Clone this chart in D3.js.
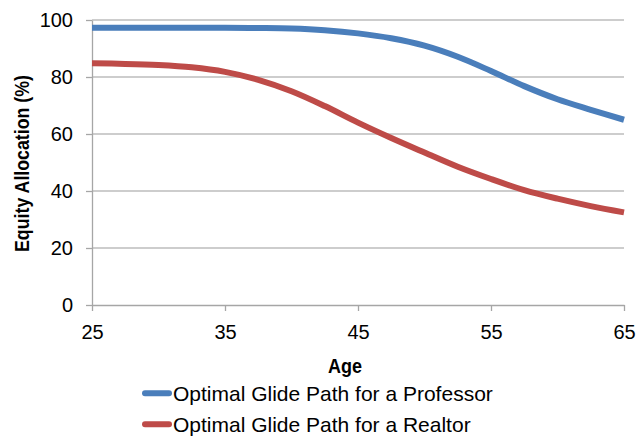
<!DOCTYPE html>
<html>
<head>
<meta charset="utf-8">
<script src="https://cdn.jsdelivr.net/npm/d3@7"></script>
<style>
  html, body { margin: 0; padding: 0; background: #fff; }
  svg { display: block; }
  text { font-family: "Liberation Sans", Arial, sans-serif; fill: #000; }
  .title { font-weight: bold; }
</style>
</head>
<body>
<svg id="chart" width="639" height="438"></svg>
<script>
// Glide path data: equity allocation (%) by age
const ages      = [25, 27.5, 30, 32.5, 35, 37.5, 40, 42.5, 45, 47.5, 50, 52.5, 55, 57.5, 60, 62.5, 65];
const professor = [97.3, 97.3, 97.3, 97.3, 97.3, 97.2, 97.0, 96.4, 95.3, 93.6, 91.0, 87.1, 82.1, 76.8, 72.2, 68.5, 65.0];
const realtor   = [84.8, 84.6, 84.2, 83.4, 81.8, 79.0, 75.0, 69.8, 64.0, 58.6, 53.5, 48.5, 44.2, 40.3, 37.3, 34.7, 32.5];
const seriesNames = ["Optimal Glide Path for a Professor", "Optimal Glide Path for a Realtor"];
const seriesColors = ["#4a7ebb", "#be4b48"];
const xTicks = [25, 35, 45, 55, 65];
const yTicks = [0, 20, 40, 60, 80, 100];

const svg = d3.select("#chart");
const margin = { left: 92, right: 15, top: 20, bottom: 133 };
const W = 639, H = 438;

const x = d3.scaleLinear().domain([25, 65]).range([margin.left, W - margin.right]);
const y = d3.scaleLinear().domain([0, 100]).range([H - margin.bottom, margin.top]);

// horizontal gridlines
svg.append("g")
  .selectAll("line")
  .data(yTicks.filter(d => d > 0))
  .join("line")
  .attr("x1", x(25)).attr("x2", x(65))
  .attr("y1", d => y(d)).attr("y2", d => y(d))
  .attr("stroke", "#bcbcbc").attr("stroke-width", 1.3);

// y axis
const yAxis = svg.append("g")
  .attr("transform", `translate(${x(25)},0)`)
  .call(d3.axisLeft(y).tickValues(yTicks).tickSize(6).tickPadding(13).tickSizeOuter(0));
yAxis.select(".domain").attr("stroke", "#a6a6a6").attr("stroke-width", 1.3);
yAxis.selectAll(".tick line").attr("stroke", "#a6a6a6").attr("stroke-width", 1.3);
yAxis.selectAll(".tick text").attr("font-size", 20).attr("font-family", "Liberation Sans, Arial, sans-serif").attr("fill", "#000");

// x axis
const xAxis = svg.append("g")
  .attr("transform", `translate(0,${y(0)})`)
  .call(d3.axisBottom(x).tickValues(xTicks).tickSize(6).tickPadding(14).tickSizeOuter(0));
xAxis.select(".domain").attr("stroke", "#a6a6a6").attr("stroke-width", 1.3);
xAxis.selectAll(".tick line").attr("stroke", "#a6a6a6").attr("stroke-width", 1.3);
xAxis.selectAll(".tick text").attr("font-size", 20).attr("font-family", "Liberation Sans, Arial, sans-serif").attr("fill", "#000");

// series lines
const line = d3.line()
  .x(d => x(d[0]))
  .y(d => y(d[1]))
  .curve(d3.curveCatmullRom.alpha(0.5));

[professor, realtor].forEach((vals, i) => {
  svg.append("path")
    .datum(ages.map((a, j) => [a, vals[j]]))
    .attr("d", line)
    .attr("fill", "none")
    .attr("stroke", seriesColors[i])
    .attr("stroke-width", 6)
    .attr("stroke-linecap", "butt");
});

// axis titles (condensed bold)
svg.append("text")
  .attr("class", "title")
  .attr("x", 345).attr("y", 373)
  .attr("text-anchor", "middle")
  .attr("font-size", 20)
  .attr("textLength", 34)
  .attr("lengthAdjust", "spacingAndGlyphs")
  .text("Age");

svg.append("text")
  .attr("class", "title")
  .attr("transform", `translate(29,${(y(0) + y(100)) / 2 + 1}) rotate(-90)`)
  .attr("text-anchor", "middle")
  .attr("font-size", 20)
  .attr("textLength", 177)
  .attr("lengthAdjust", "spacingAndGlyphs")
  .text("Equity Allocation (%)");

// legend
const legend = svg.append("g");
seriesNames.forEach((name, i) => {
  const ly = 393.3 + i * 31;
  legend.append("line")
    .attr("x1", 145).attr("x2", 169)
    .attr("y1", ly).attr("y2", ly)
    .attr("stroke", seriesColors[i])
    .attr("stroke-width", 6)
    .attr("stroke-linecap", "round");
  legend.append("text")
    .attr("x", 173).attr("y", ly + 7.3)
    .attr("font-size", 21)
    .text(name);
});
</script>
</body>
</html>
